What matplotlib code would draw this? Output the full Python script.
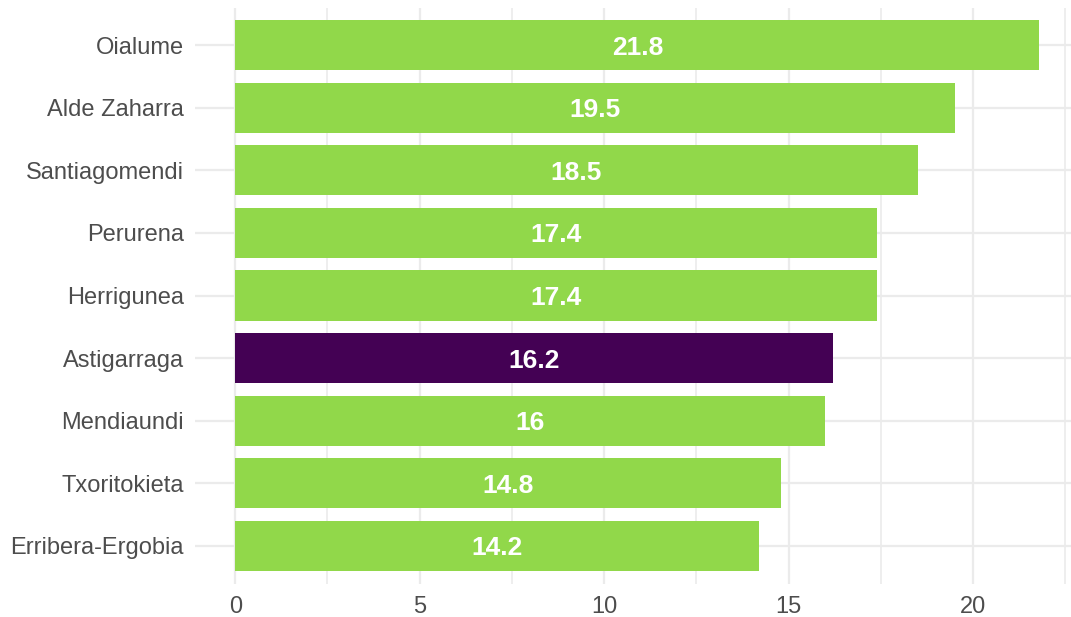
import numpy as np
import matplotlib.pyplot as plt

plt.rcParams['font.family'] = ['Liberation Sans', 'DejaVu Sans']

# data, top to bottom
barrios = ["Oialume", "Alde Zaharra", "Santiagomendi", "Perurena", "Herrigunea",
           "Astigarraga", "Mendiaundi", "Txoritokieta", "Erribera-Ergobia"]
valores = [21.8, 19.5, 18.5, 17.4, 17.4, 16.2, 16, 14.8, 14.2]
resaltado = "Astigarraga"

verde = "#91D84A"
morado = "#440154"
colores = [morado if b == resaltado else verde for b in barrios]

fig = plt.figure(figsize=(10.71, 6.17), dpi=100)
ax = fig.add_axes([195 / 1071, 1 - 583.5 / 617, (1071 - 195) / 1071, (583.5 - 7.5) / 617])

pos = np.arange(len(barrios))[::-1]
ax.barh(pos, valores, height=0.8, color=colores, zorder=2)

# labels in the middle of each bar
for p, v in zip(pos, valores):
    ax.text(v / 2, p, f"{v:g}", color="white", fontsize=19, fontweight="bold",
            ha="center", va="center_baseline", zorder=3)

ax.set_xlim(-1.09, (1071 - 235) / 36.9)
ax.set_ylim(-0.6, len(barrios) - 0.4)
ax.set_yticks(pos)
ax.set_yticklabels(barrios)
ax.set_xticks([0, 5, 10, 15, 20])
ax.set_xticks([2.5, 7.5, 12.5, 17.5, 22.5], minor=True)

ax.grid(True, which="major", color="#EBEBEB", linewidth=1.6, zorder=0)
ax.grid(True, which="minor", axis="x", color="#EBEBEB", linewidth=1.2, zorder=0)
ax.set_axisbelow(True)
for s in ax.spines.values():
    s.set_visible(False)
ax.tick_params(which="both", length=0)
ax.tick_params(axis="y", labelsize=17, labelcolor="#4D4D4D", pad=8)
ax.tick_params(axis="x", labelsize=17, labelcolor="#4D4D4D", pad=9)

fig.savefig("out.png", dpi=100)
